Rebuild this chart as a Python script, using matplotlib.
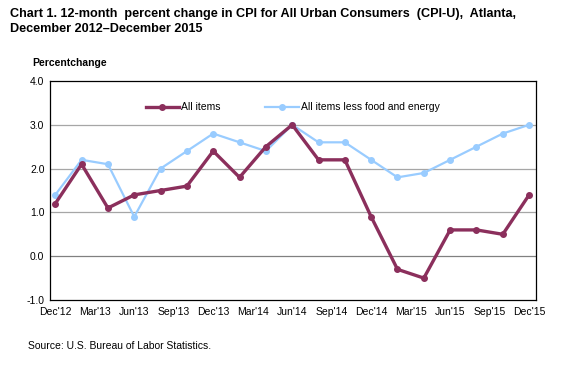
import matplotlib
matplotlib.use("Agg")
import matplotlib.pyplot as plt

plt.rcParams['font.family'] = ['Liberation Sans', 'DejaVu Sans']

# bimonthly data, Dec 2012 - Dec 2015 (month index from Dec'12)
months = list(range(0, 37, 2))
all_items = [1.2, 2.1, 1.1, 1.4, 1.5, 1.6, 2.4, 1.8, 2.5, 3.0,
             2.2, 2.2, 0.9, -0.3, -0.5, 0.6, 0.6, 0.5, 1.4]
core = [1.4, 2.2, 2.1, 0.9, 2.0, 2.4, 2.8, 2.6, 2.4, 3.0,
        2.6, 2.6, 2.2, 1.8, 1.9, 2.2, 2.5, 2.8, 3.0]
tick_months = list(range(0, 37, 3))
tick_labels = ["Dec'12", "Mar'13", "Jun'13", "Sep'13", "Dec'13", "Mar'14", "Jun'14",
               "Sep'14", "Dec'14", "Mar'15", "Jun'15", "Sep'15", "Dec'15"]

fig = plt.figure(figsize=(5.72, 3.65), dpi=100)
ax = fig.add_axes([50/572, 1 - 300/365, 485.7/572, 219/365])

for y in [1, 2, 3]:
    ax.axhline(y, color="#a6a6a6", lw=0.9, zorder=0)
ax.axhline(0, color="#808080", lw=0.9, zorder=0)

ax.plot(months, core, color="#99ccff", lw=1.6, marker="o", ms=4,
        label="All items less food and energy", zorder=2)
ax.plot(months, all_items, color="#8b2f5c", lw=2.4, marker="o", ms=4,
        label="All items", zorder=3)

ax.set_xlim(-0.4, 36.5)
ax.set_ylim(-1, 4)
ax.set_yticks([-1, 0, 1, 2, 3, 4])
ax.set_yticklabels(["%.1f" % v for v in [-1, 0, 1, 2, 3, 4]], fontsize=7.5)
ax.set_xticks(tick_months)
ax.set_xticklabels(tick_labels, fontsize=7.5)
ax.tick_params(axis="x", length=0, pad=5)
ax.tick_params(axis="y", length=0, pad=4)
for s in ax.spines.values():
    s.set_color("black")
    s.set_linewidth(0.9)

h, l = ax.get_legend_handles_labels()
ax.legend(h[::-1], l[::-1], ncol=2, loc="center left", bbox_to_anchor=(0.186, 0.88),
          frameon=False, fontsize=7.5, borderpad=0, handlelength=3.2,
          handletextpad=0.2, columnspacing=4.3)

fig.text(10/572, 1 - 14/365, "Chart 1. 12-month  percent change in CPI for All Urban Consumers  (CPI-U),  Atlanta,",
         fontsize=9.1, fontweight="bold", va="center")
fig.text(10/572, 1 - 29/365, "December 2012\u2013December 2015",
         fontsize=9.1, fontweight="bold", va="center")
fig.text(32/572, 1 - 63/365, "Percentchange", fontsize=7.5, fontweight="bold", va="center")
fig.text(28/572, 1 - 346/365, "Source: U.S. Bureau of Labor Statistics.", fontsize=7.5, va="center")

fig.savefig("out.png", dpi=100)
